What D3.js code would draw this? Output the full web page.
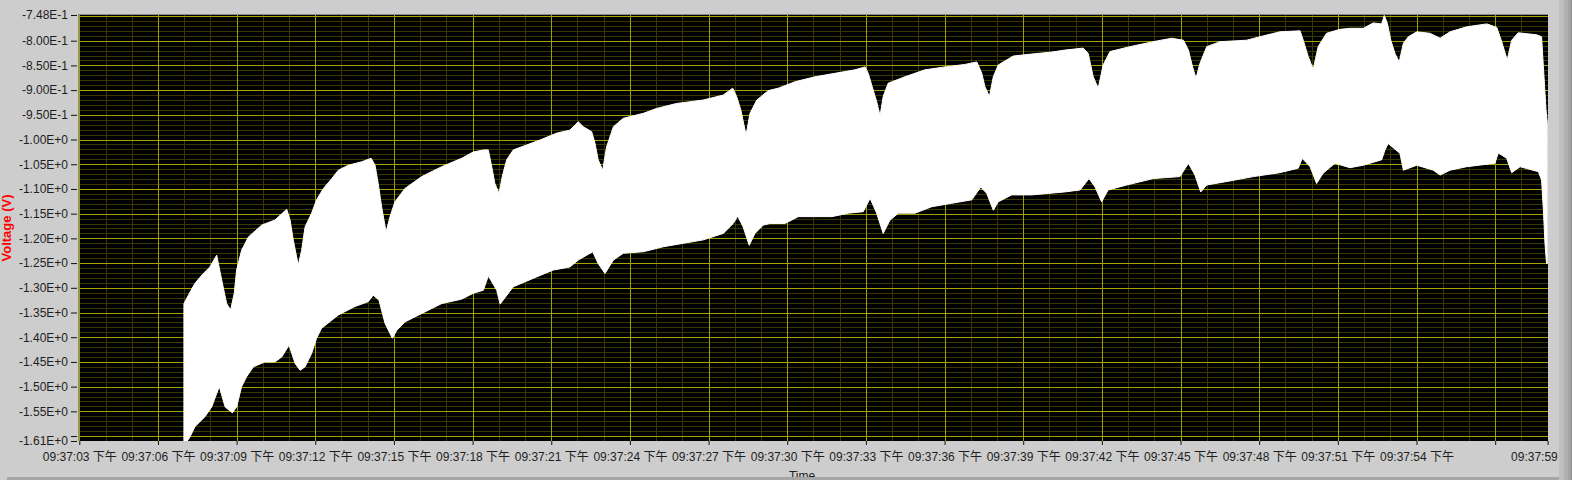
<!DOCTYPE html>
<html>
<head>
<meta charset="utf-8">
<script src="https://cdn.jsdelivr.net/npm/d3@7/dist/d3.min.js"></script>
<style>
  html, body { margin: 0; padding: 0; background: #cdcdcd; }
  svg { display: block; }
  text { font-family: "Liberation Sans", Arial, "Noto Sans CJK SC", sans-serif; }
</style>
</head>
<body>
<svg id="chart" width="1572" height="480"></svg>
<script>
// ---- Data (time in seconds after 09:37:00, voltage in V) ----
const upperEnvelope = [
  [6.99,-1.332],[7.16,-1.315],[7.41,-1.291],[7.73,-1.271],[7.98,-1.258],[8.24,-1.234],
  [8.43,-1.284],[8.62,-1.332],[8.77,-1.345],[8.91,-1.311],[9.00,-1.264],[9.19,-1.224],
  [9.45,-1.197],[9.96,-1.173],[10.46,-1.163],[10.91,-1.141],[11.04,-1.163],[11.16,-1.203],
  [11.35,-1.254],[11.48,-1.224],[11.61,-1.177],[11.86,-1.149],[12.05,-1.122],[12.31,-1.099],
  [12.63,-1.079],[12.88,-1.062],[13.26,-1.052],[13.77,-1.045],[14.13,-1.038],[14.28,-1.052],
  [14.40,-1.089],[14.53,-1.136],[14.70,-1.187],[14.85,-1.156],[15.04,-1.126],[15.42,-1.099],
  [16.06,-1.075],[16.82,-1.055],[17.58,-1.038],[18.03,-1.025],[18.41,-1.021],[18.60,-1.021],
  [18.73,-1.055],[18.85,-1.089],[19.01,-1.109],[19.13,-1.075],[19.30,-1.041],[19.55,-1.021],
  [20.06,-1.011],[20.57,-1.001],[21.21,-0.987],[21.71,-0.981],[22.03,-0.964],[22.22,-0.974],
  [22.54,-0.984],[22.67,-1.008],[22.79,-1.041],[22.96,-1.062],[23.11,-1.015],[23.37,-0.974],
  [23.75,-0.957],[24.51,-0.947],[25.02,-0.937],[25.78,-0.927],[26.80,-0.920],[27.56,-0.910],
  [27.92,-0.896],[28.07,-0.913],[28.23,-0.940],[28.43,-0.991],[28.58,-0.947],[28.84,-0.920],
  [29.28,-0.901],[29.66,-0.896],[30.30,-0.883],[31.06,-0.873],[31.82,-0.866],[32.58,-0.859],
  [32.97,-0.853],[33.09,-0.866],[33.24,-0.893],[33.41,-0.923],[33.54,-0.952],[33.66,-0.913],
  [33.85,-0.886],[34.49,-0.873],[35.25,-0.859],[36.02,-0.853],[36.78,-0.848],[37.23,-0.843],
  [37.42,-0.866],[37.54,-0.893],[37.71,-0.913],[37.86,-0.873],[38.05,-0.849],[38.62,-0.831],
  [39.32,-0.827],[40.09,-0.823],[40.59,-0.819],[41.29,-0.815],[41.48,-0.826],[41.67,-0.873],
  [41.86,-0.896],[42.05,-0.849],[42.31,-0.822],[43.07,-0.812],[43.96,-0.802],[44.66,-0.795],
  [45.11,-0.799],[45.30,-0.819],[45.46,-0.853],[45.59,-0.876],[45.74,-0.846],[46.00,-0.812],
  [46.51,-0.802],[47.52,-0.799],[48.03,-0.792],[48.79,-0.782],[49.56,-0.780],[49.68,-0.799],
  [49.87,-0.832],[50.06,-0.858],[50.25,-0.812],[50.57,-0.785],[51.08,-0.777],[51.46,-0.775],
  [51.97,-0.775],[52.35,-0.764],[52.67,-0.766],[52.77,-0.749],[52.89,-0.765],[53.02,-0.799],
  [53.18,-0.826],[53.34,-0.843],[53.50,-0.805],[53.69,-0.792],[54.01,-0.782],[54.51,-0.785],
  [54.90,-0.795],[55.28,-0.782],[55.91,-0.772],[56.68,-0.766],[57.06,-0.773],[57.25,-0.802],
  [57.46,-0.839],[57.63,-0.799],[57.88,-0.784],[58.58,-0.788],[58.77,-0.792],[58.84,-0.853],
  [58.94,-0.940],[58.99,-0.967]
];

const lowerEnvelope = [
  [6.99,-1.620],[7.22,-1.602],[7.41,-1.581],[7.79,-1.561],[8.05,-1.541],[8.24,-1.514],
  [8.34,-1.500],[8.56,-1.541],[8.84,-1.553],[9.00,-1.541],[9.19,-1.500],[9.38,-1.480],
  [9.64,-1.460],[10.08,-1.450],[10.46,-1.450],[10.72,-1.440],[11.00,-1.416],[11.23,-1.453],
  [11.42,-1.467],[11.61,-1.460],[11.86,-1.433],[12.05,-1.402],[12.24,-1.382],[12.88,-1.355],
  [13.51,-1.338],[14.02,-1.328],[14.21,-1.315],[14.43,-1.325],[14.66,-1.372],[14.94,-1.402],
  [15.11,-1.386],[15.42,-1.369],[16.06,-1.352],[16.82,-1.332],[17.58,-1.323],[18.03,-1.311],
  [18.41,-1.305],[18.60,-1.276],[18.92,-1.305],[19.05,-1.333],[19.55,-1.298],[20.44,-1.278],
  [21.08,-1.264],[21.71,-1.258],[22.03,-1.244],[22.58,-1.227],[22.79,-1.251],[23.05,-1.271],
  [23.37,-1.244],[23.75,-1.230],[24.51,-1.227],[25.27,-1.217],[26.04,-1.210],[26.80,-1.203],
  [27.56,-1.190],[27.94,-1.170],[28.11,-1.155],[28.32,-1.177],[28.55,-1.214],[28.77,-1.190],
  [29.09,-1.173],[29.34,-1.170],[29.91,-1.170],[30.42,-1.156],[31.70,-1.156],[32.33,-1.149],
  [32.90,-1.146],[33.16,-1.119],[33.41,-1.149],[33.66,-1.190],[33.92,-1.163],[34.24,-1.149],
  [34.87,-1.149],[35.51,-1.136],[36.27,-1.129],[37.04,-1.122],[37.38,-1.096],[37.61,-1.109],
  [37.86,-1.143],[38.05,-1.126],[38.56,-1.112],[39.32,-1.112],[39.96,-1.109],[40.59,-1.106],
  [41.17,-1.102],[41.51,-1.079],[41.74,-1.096],[41.99,-1.126],[42.24,-1.102],[42.95,-1.092],
  [43.96,-1.079],[44.98,-1.075],[45.30,-1.048],[45.55,-1.072],[45.77,-1.106],[46.00,-1.092],
  [46.76,-1.085],[47.78,-1.075],[48.79,-1.067],[49.49,-1.058],[49.64,-1.038],[49.94,-1.055],
  [50.19,-1.089],[50.44,-1.068],[50.89,-1.048],[51.46,-1.057],[51.97,-1.052],[52.67,-1.041],
  [52.80,-1.021],[52.92,-1.008],[53.37,-1.028],[53.50,-1.062],[54.01,-1.052],[54.64,-1.062],
  [54.90,-1.072],[55.28,-1.062],[55.91,-1.055],[56.99,-1.048],[57.12,-1.027],[57.44,-1.038],
  [57.63,-1.067],[57.95,-1.055],[58.65,-1.065],[58.77,-1.082],[58.84,-1.143],[58.90,-1.210],
  [58.96,-1.251],[58.99,-1.251]
];

// Axis ticks and labels
const xTickValues = [3,6,9,12,15,18,21,24,27,30,33,36,39,42,45,48,51,54,57,59];
const xTickLabels = ["09:37:03 下午","09:37:06 下午","09:37:09 下午","09:37:12 下午","09:37:15 下午",
  "09:37:18 下午","09:37:21 下午","09:37:24 下午","09:37:27 下午","09:37:30 下午","09:37:33 下午",
  "09:37:36 下午","09:37:39 下午","09:37:42 下午","09:37:45 下午","09:37:48 下午","09:37:51 下午",
  "09:37:54 下午","","09:37:59 下午"];
const yTickValues = [-0.748,-0.80,-0.85,-0.90,-0.95,-1.00,-1.05,-1.10,-1.15,-1.20,-1.25,-1.30,
  -1.35,-1.40,-1.45,-1.50,-1.55,-1.60,-1.61];
const yTickLabels = ["-7.48E-1","-8.00E-1","-8.50E-1","-9.00E-1","-9.50E-1","-1.00E+0","-1.05E+0",
  "-1.10E+0","-1.15E+0","-1.20E+0","-1.25E+0","-1.30E+0","-1.35E+0","-1.40E+0","-1.45E+0",
  "-1.50E+0","-1.55E+0","","-1.61E+0"];
const xTitle = "Time";
const yTitle = "Voltage (V)";

// ---- Layout ----
const W = 1572, H = 480;
const plot = { left: 79, top: 15, right: 1548, bottom: 441 };

const svg = d3.select("#chart");
const x = d3.scaleLinear().domain([3, 59]).range([79.3, 1547.6]);
const y = d3.scaleLinear().domain([-0.748, -1.61]).range([plot.top, plot.bottom]);

// background
svg.append("rect").attr("x",0).attr("y",0).attr("width",W).attr("height",H).attr("fill","#cdcdcd");

// plot background
svg.append("rect").attr("x",plot.left).attr("y",plot.top)
  .attr("width",plot.right-plot.left).attr("height",plot.bottom-plot.top).attr("fill","#000");

svg.append("clipPath").attr("id","clip").append("rect")
  .attr("x",plot.left).attr("y",plot.top)
  .attr("width",plot.right-plot.left).attr("height",plot.bottom-plot.top);

const g = svg.append("g").attr("clip-path","url(#clip)");

// grid
const hVals = d3.range(75, 162).map(i => ({v: -i/100, major: i % 5 === 0}));
const vVals = d3.range(3, 60).map(s => ({s, major: s % 3 === 0}));
const minorCol = "#3a3a00", majorCol = "#a3a300";
g.selectAll("line.hmin").data(hVals.filter(d=>!d.major)).join("line")
  .attr("x1",plot.left).attr("x2",plot.right)
  .attr("y1",d=>Math.round(y(d.v))+0.5).attr("y2",d=>Math.round(y(d.v))+0.5)
  .attr("stroke",minorCol).attr("stroke-width",1);
g.selectAll("line.vmin").data(vVals.filter(d=>!d.major)).join("line")
  .attr("y1",plot.top).attr("y2",plot.bottom)
  .attr("x1",d=>Math.round(x(d.s))+0.5).attr("x2",d=>Math.round(x(d.s))+0.5)
  .attr("stroke",minorCol).attr("stroke-width",1);
g.selectAll("line.hmaj").data(hVals.filter(d=>d.major)).join("line")
  .attr("x1",plot.left).attr("x2",plot.right)
  .attr("y1",d=>Math.round(y(d.v))+0.5).attr("y2",d=>Math.round(y(d.v))+0.5)
  .attr("stroke",majorCol).attr("stroke-width",1);
g.selectAll("line.vmaj").data(vVals.filter(d=>d.major)).join("line")
  .attr("y1",plot.top).attr("y2",plot.bottom)
  .attr("x1",d=>Math.round(x(d.s))+0.5).attr("x2",d=>Math.round(x(d.s))+0.5)
  .attr("stroke",majorCol).attr("stroke-width",1);

// signal envelope (filled white band)
const line = d3.line().x(d => x(d[0])).y(d => y(d[1]));
const poly = upperEnvelope.concat(lowerEnvelope.slice().reverse());
g.append("path").attr("d", line(poly) + "Z")
  .attr("fill","#fff").attr("stroke","#fff").attr("stroke-width",1).attr("stroke-linejoin","round");

// plot border (top/left)
svg.append("line").attr("x1",plot.left-0.5).attr("x2",plot.right).attr("y1",plot.top-0.5).attr("y2",plot.top-0.5)
  .attr("stroke","#8a8a8a");
svg.append("line").attr("x1",plot.left-0.5).attr("x2",plot.left-0.5).attr("y1",plot.top-1).attr("y2",plot.bottom)
  .attr("stroke","#8a8a8a");

// axes
const yAxis = d3.axisLeft(y).tickValues(yTickValues)
  .tickFormat((d,i) => yTickLabels[i]).tickSize(6).tickPadding(3);
const ya = svg.append("g").attr("transform","translate(77,0)").call(yAxis);
ya.select(".domain").remove();
ya.selectAll("line").attr("stroke","#111");
ya.selectAll("text").attr("font-size","12px").attr("fill","#1e1e1e")
  .attr("font-family","'Liberation Sans', Arial, sans-serif");

const xAxis = d3.axisBottom(x).tickValues(xTickValues)
  .tickFormat((d,i) => xTickLabels[i]).tickSize(4).tickPadding(7);
const xa = svg.append("g").attr("transform",`translate(0,${plot.bottom})`).call(xAxis);
xa.select(".domain").remove();
xa.selectAll("line").attr("stroke","#111");
xa.selectAll("text").attr("font-size","12px").attr("fill","#1e1e1e")
  .attr("font-family","'Liberation Sans', Arial, 'Noto Sans CJK SC', sans-serif");

// axis titles
svg.append("text").attr("x", 802).attr("y", 480).attr("text-anchor","middle")
  .attr("font-size","12px").attr("fill","#1e1e1e").text(xTitle);
svg.append("text").attr("transform","translate(11,228) rotate(-90)").attr("text-anchor","middle")
  .attr("font-size","13px").attr("font-weight","bold").attr("fill","#ff0000").text(yTitle);

// window frame: bottom band and right bars
svg.append("rect").attr("x",7).attr("y",477).attr("width",1552).attr("height",3).attr("fill","#a6a6a6");
svg.append("rect").attr("x",1559).attr("y",0).attr("width",5).attr("height",H).attr("fill","#bfbfbf");
svg.append("rect").attr("x",1564).attr("y",0).attr("width",4).attr("height",H).attr("fill","#b1b1b1");
svg.append("rect").attr("x",1568).attr("y",0).attr("width",3).attr("height",H).attr("fill","#a3a3a3");
svg.append("rect").attr("x",1571).attr("y",0).attr("width",1).attr("height",H).attr("fill","#8c8c8c");
</script>
</body>
</html>
